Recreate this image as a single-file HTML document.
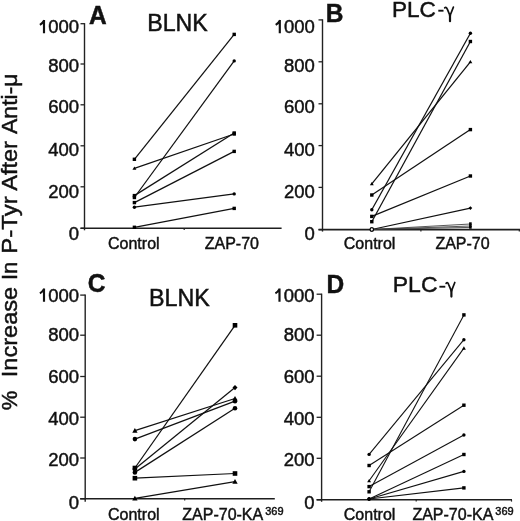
<!DOCTYPE html>
<html><head><meta charset="utf-8"><style>
html,body{margin:0;padding:0;background:#fff;}
svg{display:block;font-family:"Liberation Sans", sans-serif;will-change:transform;}
text{fill:#111;stroke:#111;stroke-width:0.45px;}
</style></head><body>
<svg width="520" height="521" viewBox="0 0 520 521">
<rect width="520" height="521" fill="#fff"/>
<line x1="84.50" y1="23.10" x2="84.50" y2="230.30" stroke="#222" stroke-width="1.4"/>
<line x1="80.50" y1="23.70" x2="84.50" y2="23.70" stroke="#222" stroke-width="1.3"/>
<text transform="translate(79.0 33.3) scale(1 1.035)" font-size="18.5" text-anchor="end">000</text>
<path d="M44.00,19.90 L44.00,33.30 M44.30,20.30 Q42.50,23.50 39.90,24.90" fill="none" stroke="#111" stroke-width="2.15"/>
<line x1="80.50" y1="64.00" x2="84.50" y2="64.00" stroke="#222" stroke-width="1.3"/>
<text transform="translate(79.0 71.7) scale(1 1.035)" font-size="18.5" text-anchor="end">800</text>
<line x1="80.50" y1="104.80" x2="84.50" y2="104.80" stroke="#222" stroke-width="1.3"/>
<text transform="translate(79.0 113.4) scale(1 1.035)" font-size="18.5" text-anchor="end">600</text>
<line x1="80.50" y1="145.80" x2="84.50" y2="145.80" stroke="#222" stroke-width="1.3"/>
<text transform="translate(79.0 155.7) scale(1 1.035)" font-size="18.5" text-anchor="end">400</text>
<line x1="80.50" y1="186.80" x2="84.50" y2="186.80" stroke="#222" stroke-width="1.3"/>
<text transform="translate(79.0 197.5) scale(1 1.035)" font-size="18.5" text-anchor="end">200</text>
<line x1="80.50" y1="228.30" x2="84.50" y2="228.30" stroke="#222" stroke-width="1.3"/>
<text transform="translate(79.0 239.5) scale(1 1.035)" font-size="18.5" text-anchor="end">0</text>
<line x1="80.50" y1="228.30" x2="281.60" y2="228.30" stroke="#1e1e1e" stroke-width="1.55"/>
<line x1="184.20" y1="228.30" x2="184.20" y2="230.10" stroke="#222" stroke-width="1.2"/>
<line x1="134.40" y1="159.30" x2="234.20" y2="34.40" stroke="#111" stroke-width="1.25"/>
<rect x="132.70" y="157.60" width="3.4" height="3.4" fill="#000"/>
<rect x="232.50" y="32.70" width="3.4" height="3.4" fill="#000"/>
<line x1="134.40" y1="168.30" x2="234.20" y2="134.00" stroke="#111" stroke-width="1.25"/>
<polygon points="132.44,169.83 136.36,169.83 134.40,166.43" fill="#000"/>
<rect x="232.50" y="132.30" width="3.4" height="3.4" fill="#000"/>
<line x1="134.40" y1="197.50" x2="234.20" y2="60.90" stroke="#111" stroke-width="1.25"/>
<rect x="132.70" y="195.80" width="3.4" height="3.4" fill="#000"/>
<circle cx="234.2" cy="60.9" r="1.70" fill="#000"/>
<line x1="134.40" y1="195.60" x2="234.20" y2="133.00" stroke="#111" stroke-width="1.25"/>
<rect x="132.70" y="193.90" width="3.4" height="3.4" fill="#000"/>
<rect x="232.50" y="131.30" width="3.4" height="3.4" fill="#000"/>
<line x1="134.40" y1="202.60" x2="234.20" y2="151.40" stroke="#111" stroke-width="1.25"/>
<rect x="132.70" y="200.90" width="3.4" height="3.4" fill="#000"/>
<rect x="232.50" y="149.70" width="3.4" height="3.4" fill="#000"/>
<line x1="134.40" y1="207.20" x2="234.20" y2="193.90" stroke="#111" stroke-width="1.25"/>
<circle cx="134.4" cy="207.2" r="1.70" fill="#000"/>
<circle cx="234.2" cy="193.9" r="1.70" fill="#000"/>
<line x1="134.40" y1="227.30" x2="234.20" y2="208.40" stroke="#111" stroke-width="1.25"/>
<rect x="132.70" y="225.60" width="3.4" height="3.4" fill="#000"/>
<rect x="232.50" y="206.70" width="3.4" height="3.4" fill="#000"/>
<text transform="translate(89.1 24.4) scale(1 1.035)" font-size="24.5" font-weight="bold">A</text>
<text transform="translate(147.3 31.4) scale(1 1.035)" font-size="22.5" textLength="60.5" lengthAdjust="spacingAndGlyphs">BLNK</text>
<text transform="translate(108 249.0)" font-size="16">Control</text>
<text transform="translate(204.7 249.1)" font-size="16">ZAP-70</text>
<line x1="322.50" y1="19.30" x2="322.50" y2="231.60" stroke="#222" stroke-width="1.4"/>
<line x1="318.50" y1="19.90" x2="322.50" y2="19.90" stroke="#222" stroke-width="1.3"/>
<text transform="translate(314.8 33.3) scale(1 1.035)" font-size="18.5" text-anchor="end">000</text>
<path d="M279.80,19.90 L279.80,33.30 M280.10,20.30 Q278.30,23.50 275.70,24.90" fill="none" stroke="#111" stroke-width="2.15"/>
<line x1="318.50" y1="61.80" x2="322.50" y2="61.80" stroke="#222" stroke-width="1.3"/>
<text transform="translate(314.8 71.7) scale(1 1.035)" font-size="18.5" text-anchor="end">800</text>
<line x1="318.50" y1="103.80" x2="322.50" y2="103.80" stroke="#222" stroke-width="1.3"/>
<text transform="translate(314.8 113.4) scale(1 1.035)" font-size="18.5" text-anchor="end">600</text>
<line x1="318.50" y1="145.60" x2="322.50" y2="145.60" stroke="#222" stroke-width="1.3"/>
<text transform="translate(314.8 155.7) scale(1 1.035)" font-size="18.5" text-anchor="end">400</text>
<line x1="318.50" y1="187.40" x2="322.50" y2="187.40" stroke="#222" stroke-width="1.3"/>
<text transform="translate(314.8 197.5) scale(1 1.035)" font-size="18.5" text-anchor="end">200</text>
<line x1="318.50" y1="229.60" x2="322.50" y2="229.60" stroke="#222" stroke-width="1.3"/>
<text transform="translate(314.8 239.5) scale(1 1.035)" font-size="18.5" text-anchor="end">0</text>
<line x1="318.50" y1="229.60" x2="520.50" y2="229.60" stroke="#1e1e1e" stroke-width="1.55"/>
<line x1="420.90" y1="229.60" x2="420.90" y2="231.40" stroke="#222" stroke-width="1.2"/>
<line x1="519.30" y1="229.60" x2="519.30" y2="231.40" stroke="#222" stroke-width="1.2"/>
<line x1="371.80" y1="183.80" x2="470.40" y2="61.80" stroke="#111" stroke-width="1.25"/>
<polygon points="369.85,185.33 373.75,185.33 371.80,181.93" fill="#000"/>
<polygon points="468.44,63.33 472.35,63.33 470.40,59.93" fill="#000"/>
<line x1="371.80" y1="195.00" x2="470.40" y2="129.60" stroke="#111" stroke-width="1.25"/>
<rect x="370.10" y="193.30" width="3.4" height="3.4" fill="#000"/>
<rect x="468.70" y="127.90" width="3.4" height="3.4" fill="#000"/>
<line x1="371.80" y1="209.80" x2="470.40" y2="33.20" stroke="#111" stroke-width="1.25"/>
<circle cx="371.8" cy="209.8" r="1.70" fill="#000"/>
<circle cx="470.4" cy="33.2" r="1.70" fill="#000"/>
<line x1="371.80" y1="216.40" x2="470.40" y2="176.00" stroke="#111" stroke-width="1.25"/>
<rect x="370.10" y="214.70" width="3.4" height="3.4" fill="#000"/>
<rect x="468.70" y="174.30" width="3.4" height="3.4" fill="#000"/>
<line x1="371.80" y1="221.70" x2="470.40" y2="41.50" stroke="#111" stroke-width="1.25"/>
<rect x="370.10" y="220.00" width="3.4" height="3.4" fill="#000"/>
<rect x="468.70" y="39.80" width="3.4" height="3.4" fill="#000"/>
<line x1="371.80" y1="229.50" x2="470.40" y2="208.10" stroke="#111" stroke-width="1.25"/>
<circle cx="371.8" cy="229.5" r="1.70" fill="#fff" stroke="#000" stroke-width="1.1"/>
<polygon points="468.53,208.10 470.40,206.23 472.27,208.10 470.40,209.97" fill="#000"/>
<line x1="371.80" y1="229.50" x2="470.40" y2="224.00" stroke="#3a3a3a" stroke-width="0.85"/>
<line x1="371.80" y1="229.50" x2="470.40" y2="226.00" stroke="#3a3a3a" stroke-width="0.85"/>
<line x1="371.80" y1="229.50" x2="470.40" y2="227.40" stroke="#3a3a3a" stroke-width="0.85"/>
<rect x="469.10" y="222.30" width="2.6" height="2.6" fill="#000"/>
<rect x="469.10" y="224.30" width="2.6" height="2.6" fill="#000"/>
<rect x="469.10" y="226.10" width="2.6" height="2.6" fill="#000"/>
<circle cx="371.8" cy="229.5" r="1.70" fill="#fff" stroke="#000" stroke-width="1.1"/>
<text transform="translate(325.7 21.9) scale(1 1.035)" font-size="24.5" font-weight="bold">B</text>
<text transform="translate(391.95 16.6) scale(1 1.035)" font-size="22" textLength="43.9" lengthAdjust="spacingAndGlyphs">PLC</text>
<rect x="438.3" y="9.75" width="5.2" height="1.9" fill="#111"/>
<path d="M444.70,7.90 Q446.20,6.30 447.30,9.20 L450.00,15.70 M453.40,7.10 L450.00,15.70" fill="none" stroke="#111" stroke-width="1.7" stroke-linecap="round" stroke-linejoin="round"/>
<path d="M450.00,15.20 L450.00,21.20" fill="none" stroke="#111" stroke-width="2.2" stroke-linecap="round"/>
<text transform="translate(343.8 249.1)" font-size="16">Control</text>
<text transform="translate(435.4 249.1)" font-size="16">ZAP-70</text>
<line x1="85.20" y1="294.50" x2="85.20" y2="501.80" stroke="#222" stroke-width="1.4"/>
<line x1="80.20" y1="295.10" x2="85.20" y2="295.10" stroke="#222" stroke-width="1.3"/>
<text transform="translate(79.0 301.8) scale(1 1.035)" font-size="18.5" text-anchor="end">000</text>
<path d="M44.00,288.40 L44.00,301.80 M44.30,288.80 Q42.50,292.00 39.90,293.40" fill="none" stroke="#111" stroke-width="2.15"/>
<line x1="80.20" y1="335.20" x2="85.20" y2="335.20" stroke="#222" stroke-width="1.3"/>
<text transform="translate(79.0 340.8) scale(1 1.035)" font-size="18.5" text-anchor="end">800</text>
<line x1="80.20" y1="376.50" x2="85.20" y2="376.50" stroke="#222" stroke-width="1.3"/>
<text transform="translate(79.0 382.8) scale(1 1.035)" font-size="18.5" text-anchor="end">600</text>
<line x1="80.20" y1="417.20" x2="85.20" y2="417.20" stroke="#222" stroke-width="1.3"/>
<text transform="translate(79.0 424.7) scale(1 1.035)" font-size="18.5" text-anchor="end">400</text>
<line x1="80.20" y1="458.00" x2="85.20" y2="458.00" stroke="#222" stroke-width="1.3"/>
<text transform="translate(79.0 466.3) scale(1 1.035)" font-size="18.5" text-anchor="end">200</text>
<line x1="80.20" y1="498.80" x2="85.20" y2="498.80" stroke="#222" stroke-width="1.3"/>
<text transform="translate(79.0 508.5) scale(1 1.035)" font-size="18.5" text-anchor="end">0</text>
<line x1="80.20" y1="498.80" x2="274.80" y2="498.80" stroke="#1e1e1e" stroke-width="1.55"/>
<line x1="184.70" y1="498.80" x2="184.70" y2="500.60" stroke="#222" stroke-width="1.2"/>
<line x1="134.90" y1="430.60" x2="235.00" y2="398.50" stroke="#111" stroke-width="1.25"/>
<polygon points="132.25,432.67 137.55,432.67 134.90,428.07" fill="#000"/>
<polygon points="232.35,400.57 237.65,400.57 235.00,395.97" fill="#000"/>
<line x1="134.90" y1="439.10" x2="235.00" y2="401.20" stroke="#111" stroke-width="1.25"/>
<circle cx="134.9" cy="439.1" r="2.30" fill="#000"/>
<circle cx="235" cy="401.2" r="2.30" fill="#000"/>
<line x1="134.90" y1="468.00" x2="235.00" y2="325.30" stroke="#111" stroke-width="1.25"/>
<rect x="132.60" y="465.70" width="4.6" height="4.6" fill="#000"/>
<rect x="232.70" y="323.00" width="4.6" height="4.6" fill="#000"/>
<line x1="134.90" y1="469.00" x2="235.00" y2="387.60" stroke="#111" stroke-width="1.25"/>
<circle cx="134.9" cy="469" r="2.30" fill="#000"/>
<polygon points="232.47,387.60 235.00,385.07 237.53,387.60 235.00,390.13" fill="#000"/>
<line x1="134.90" y1="472.40" x2="235.00" y2="408.20" stroke="#111" stroke-width="1.25"/>
<circle cx="134.9" cy="472.4" r="2.30" fill="#000"/>
<circle cx="235" cy="408.2" r="2.30" fill="#000"/>
<line x1="134.90" y1="478.20" x2="235.00" y2="473.50" stroke="#111" stroke-width="1.25"/>
<rect x="132.60" y="475.90" width="4.6" height="4.6" fill="#000"/>
<rect x="232.70" y="471.20" width="4.6" height="4.6" fill="#000"/>
<line x1="134.90" y1="498.40" x2="235.00" y2="481.60" stroke="#111" stroke-width="1.25"/>
<polygon points="132.25,500.47 137.55,500.47 134.90,495.87" fill="#000"/>
<polygon points="232.35,483.67 237.65,483.67 235.00,479.07" fill="#000"/>
<text transform="translate(87.8 291.8) scale(1 1.035)" font-size="24.5" font-weight="bold">C</text>
<text transform="translate(149.1 305.9) scale(1 1.035)" font-size="22.5" textLength="60.8" lengthAdjust="spacingAndGlyphs">BLNK</text>
<text transform="translate(108 519.6)" font-size="16">Control</text>
<text transform="translate(182.3 519.6)" font-size="16">ZAP-70-KA</text>
<text transform="translate(265.2 515.3) scale(1 1.035)" font-size="11">369</text>
<line x1="321.60" y1="293.60" x2="321.60" y2="501.80" stroke="#222" stroke-width="1.4"/>
<line x1="316.60" y1="294.20" x2="321.60" y2="294.20" stroke="#222" stroke-width="1.3"/>
<text transform="translate(314.5 301.8) scale(1 1.035)" font-size="18.5" text-anchor="end">000</text>
<path d="M279.50,288.40 L279.50,301.80 M279.80,288.80 Q278.00,292.00 275.40,293.40" fill="none" stroke="#111" stroke-width="2.15"/>
<line x1="316.60" y1="335.20" x2="321.60" y2="335.20" stroke="#222" stroke-width="1.3"/>
<text transform="translate(314.5 340.8) scale(1 1.035)" font-size="18.5" text-anchor="end">800</text>
<line x1="316.60" y1="376.20" x2="321.60" y2="376.20" stroke="#222" stroke-width="1.3"/>
<text transform="translate(314.5 382.8) scale(1 1.035)" font-size="18.5" text-anchor="end">600</text>
<line x1="316.60" y1="417.30" x2="321.60" y2="417.30" stroke="#222" stroke-width="1.3"/>
<text transform="translate(314.5 424.7) scale(1 1.035)" font-size="18.5" text-anchor="end">400</text>
<line x1="316.60" y1="458.30" x2="321.60" y2="458.30" stroke="#222" stroke-width="1.3"/>
<text transform="translate(314.5 466.3) scale(1 1.035)" font-size="18.5" text-anchor="end">200</text>
<line x1="316.60" y1="499.80" x2="321.60" y2="499.80" stroke="#222" stroke-width="1.3"/>
<text transform="translate(314.5 508.5) scale(1 1.035)" font-size="18.5" text-anchor="end">0</text>
<line x1="316.60" y1="499.80" x2="512.00" y2="499.80" stroke="#1e1e1e" stroke-width="1.55"/>
<line x1="416.20" y1="499.80" x2="416.20" y2="501.60" stroke="#222" stroke-width="1.2"/>
<line x1="511.50" y1="499.80" x2="511.50" y2="501.60" stroke="#222" stroke-width="1.2"/>
<line x1="369.10" y1="454.40" x2="463.90" y2="339.70" stroke="#111" stroke-width="1.1"/>
<circle cx="369.1" cy="454.4" r="1.70" fill="#000"/>
<circle cx="463.9" cy="339.7" r="1.70" fill="#000"/>
<line x1="369.10" y1="465.50" x2="463.90" y2="405.20" stroke="#111" stroke-width="1.1"/>
<rect x="367.40" y="463.80" width="3.4" height="3.4" fill="#000"/>
<rect x="462.20" y="403.50" width="3.4" height="3.4" fill="#000"/>
<line x1="369.10" y1="480.80" x2="463.90" y2="348.10" stroke="#111" stroke-width="1.1"/>
<polygon points="367.15,482.33 371.06,482.33 369.10,478.93" fill="#000"/>
<polygon points="461.94,349.63 465.85,349.63 463.90,346.23" fill="#000"/>
<line x1="369.10" y1="491.80" x2="463.90" y2="314.90" stroke="#111" stroke-width="1.1"/>
<rect x="367.40" y="490.10" width="3.4" height="3.4" fill="#000"/>
<rect x="462.20" y="313.20" width="3.4" height="3.4" fill="#000"/>
<line x1="369.10" y1="486.60" x2="463.90" y2="435.00" stroke="#111" stroke-width="1.1"/>
<rect x="367.40" y="484.90" width="3.4" height="3.4" fill="#000"/>
<circle cx="463.9" cy="435" r="1.70" fill="#000"/>
<line x1="369.10" y1="499.00" x2="463.90" y2="454.50" stroke="#111" stroke-width="1.1"/>
<circle cx="369.1" cy="499" r="1.70" fill="#000"/>
<rect x="462.20" y="452.80" width="3.4" height="3.4" fill="#000"/>
<line x1="369.10" y1="499.00" x2="463.90" y2="471.40" stroke="#111" stroke-width="1.1"/>
<circle cx="369.1" cy="499" r="1.70" fill="#000"/>
<circle cx="463.9" cy="471.4" r="1.70" fill="#000"/>
<line x1="369.10" y1="499.00" x2="463.90" y2="487.90" stroke="#111" stroke-width="1.1"/>
<circle cx="369.1" cy="499" r="1.70" fill="#000"/>
<rect x="462.20" y="486.20" width="3.4" height="3.4" fill="#000"/>
<text transform="translate(326.4 292.6) scale(1 1.035)" font-size="24.5" font-weight="bold">D</text>
<text transform="translate(392.8 292.0) scale(1 1.035)" font-size="22" textLength="44.7" lengthAdjust="spacingAndGlyphs">PLC</text>
<rect x="439.4" y="285.8" width="5.9" height="1.85" fill="#111"/>
<path d="M446.10,283.30 Q447.60,281.70 448.70,284.60 L451.40,291.10 M454.80,282.50 L451.40,291.10" fill="none" stroke="#111" stroke-width="1.7" stroke-linecap="round" stroke-linejoin="round"/>
<path d="M451.40,290.60 L451.40,296.60" fill="none" stroke="#111" stroke-width="2.2" stroke-linecap="round"/>
<text transform="translate(343.8 519.6)" font-size="16">Control</text>
<text transform="translate(412.4 519.6)" font-size="16">ZAP-70-KA</text>
<text transform="translate(495.3 515.3) scale(1 1.035)" font-size="11">369</text>
<text x="0" y="0" font-size="22" transform="translate(16.8,410.2) rotate(-90) scale(1 1.035)">%</text>
<text x="0" y="0" font-size="22" transform="translate(16.8,377.2) rotate(-90) scale(1 1.035)" textLength="90.4" lengthAdjust="spacingAndGlyphs">Increase</text>
<text x="0" y="0" font-size="22" transform="translate(16.8,280) rotate(-90) scale(1 1.035)">In</text>
<text x="0" y="0" font-size="22" transform="translate(16.8,253.8) rotate(-90) scale(1 1.035)" textLength="57.5" lengthAdjust="spacingAndGlyphs">P-Tyr</text>
<text x="0" y="0" font-size="22" transform="translate(16.8,190.8) rotate(-90) scale(1 1.035)" textLength="49.7" lengthAdjust="spacingAndGlyphs">After</text>
<text x="0" y="0" font-size="22" transform="translate(16.8,134) rotate(-90) scale(1 1.035)" textLength="60.6" lengthAdjust="spacingAndGlyphs">Anti-&#956;</text>
</svg></body></html>
